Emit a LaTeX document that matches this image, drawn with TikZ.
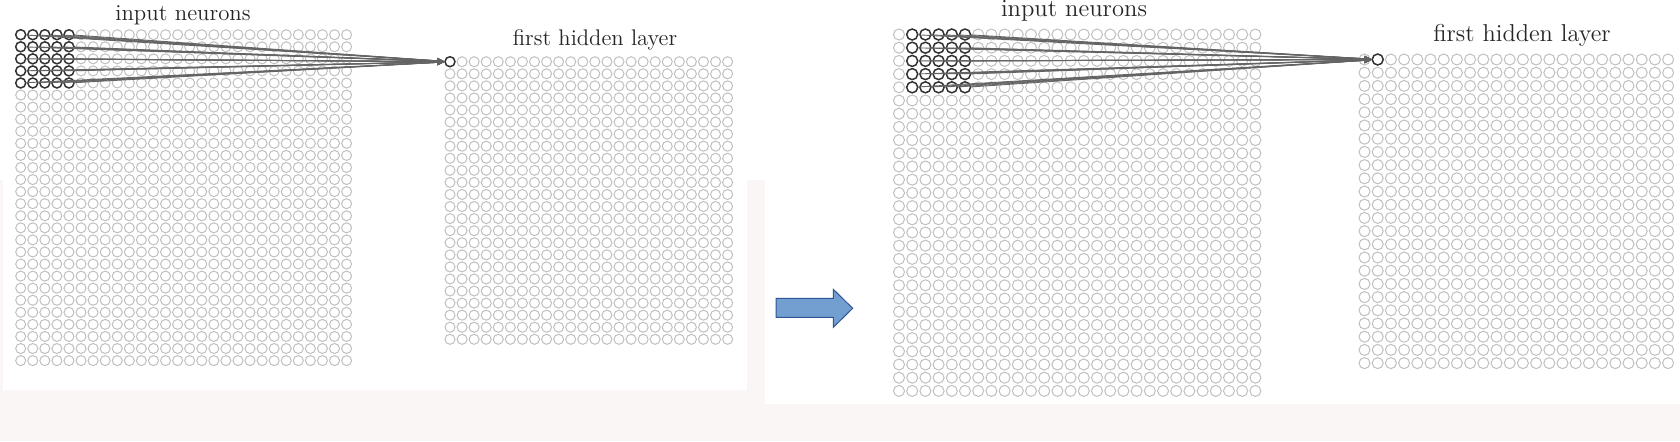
\documentclass[tikz,border=0pt]{standalone}
\usetikzlibrary{arrows.meta}
\definecolor{slidebg}{RGB}{250,246,245}
\definecolor{gridgray}{RGB}{192,192,192}
\definecolor{darkn}{RGB}{50,50,50}
\definecolor{linkgray}{RGB}{100,100,100}
\definecolor{arrowfill}{RGB}{114,159,207}
\definecolor{arrowline}{RGB}{47,85,151}
\tikzset{
  neuron/.style={circle,draw=gridgray,line width=0.5pt,inner sep=0pt,minimum size=#1},
  active/.style={draw=darkn,line width=0.75pt},
  link/.style={draw=linkgray,line width=0.45pt,-{Stealth[length=3.5pt,width=3pt]}},
  caption/.style={text=black!85,inner sep=0pt}
}
\begin{document}
\begin{tikzpicture}[x=0.5pt,y=-0.5pt]
\useasboundingbox (0,0) rectangle (1680,441);
% slide background
\fill[slidebg] (0,0) rectangle (1680,441);
\fill[white] (0,0) rectangle (1680,180);
\fill[white] (3,0) rectangle (747,390);
\fill[white] (765,0) rectangle (1680,404);

% left picture: field at the corner
\foreach \i in {0,...,27}
  \foreach \j in {0,...,27} {
    \pgfmathtruncatemacro\dark{(\i<5)&&(\j<5)}
    \ifnum\dark=1 \def\nstyle{active}\else\def\nstyle{}\fi
    \node[neuron=5pt,\nstyle] (inA-\i-\j) at ({20.7+12.07*\i},{34.7+12.07*\j}) {};
  }
\foreach \i in {0,...,23}
  \foreach \j in {0,...,23} {
    \pgfmathtruncatemacro\dark{(\i==0)&&(\j==0)}
    \ifnum\dark=1 \def\nstyle{active}\else\def\nstyle{}\fi
    \node[neuron=5pt,\nstyle] (hidA-\i-\j) at ({450+12.07*\i},{61.7+12.07*\j}) {};
  }
\foreach \i in {0,...,4}
  \foreach \j in {0,...,4}
    \draw[link] (inA-\i-\j) -- (hidA-0-0);
\node[caption,font=\fontsize{11.4}{13}\selectfont] (inlabA) at (183,15) {input neurons};
\node[caption,font=\fontsize{11.3}{13}\selectfont] (hidlabA) at (595,40) {first hidden layer};

% slide arrow
\draw[fill=arrowfill,draw=arrowline,line width=0.5pt]
  (776,298.3) -- (833.3,298.3) -- (833.3,289.3) -- (852.7,308.3)
  -- (833.3,327.3) -- (833.3,317.3) -- (776,317.3) -- cycle;

% right picture: field moved by one
\foreach \i in {0,...,27}
  \foreach \j in {0,...,27} {
    \pgfmathtruncatemacro\dark{(\i>0)&&(\i<6)&&(\j<5)}
    \ifnum\dark=1 \def\nstyle{active}\else\def\nstyle{}\fi
    \node[neuron=5.5pt,\nstyle] (inB-\i-\j) at ({899+13.2*\i},{34.5+13.2*\j}) {};
  }
\foreach \i in {0,...,23}
  \foreach \j in {0,...,23} {
    \pgfmathtruncatemacro\dark{(\i==1)&&(\j==0)}
    \ifnum\dark=1 \def\nstyle{active}\else\def\nstyle{}\fi
    \node[neuron=5.5pt,\nstyle] (hidB-\i-\j) at ({1364.5+13.2*\i},{59.5+13.2*\j}) {};
  }
\foreach \i in {1,...,5}
  \foreach \j in {0,...,4}
    \draw[link] (inB-\i-\j) -- (hidB-1-0);
\node[caption,font=\fontsize{12.3}{14}\selectfont] (inlabB) at (1074,11) {input neurons};
\node[caption,font=\fontsize{12.2}{14}\selectfont] (hidlabB) at (1522,35) {first hidden layer};
\end{tikzpicture}
\end{document}
